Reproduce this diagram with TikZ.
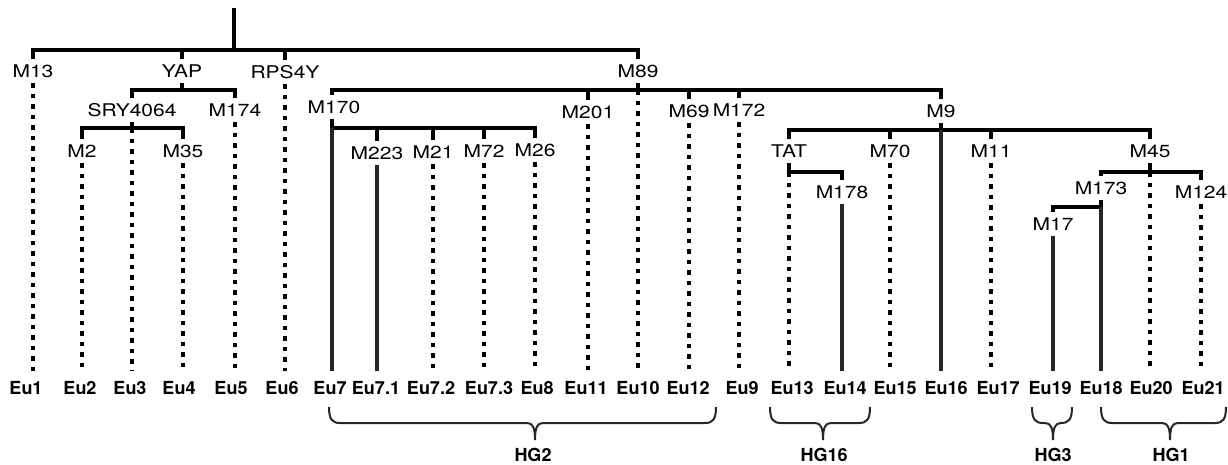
\documentclass[tikz,border=0pt]{standalone}
\usepackage{fontspec}
\setmainfont{TeX Gyre Heros}
\newfontfamily\mkfont{TeX Gyre Heros}[FakeStretch=1.2]

% curly brace under a haplogroup: left end, tip, right end
\newcommand\hgbrace[3]{%
  \draw[brace] (#1,407) .. controls (#1,419) and ({#1+3},423) .. ({#1+11},423)
    -- ({#2-8},423) .. controls ({#2-2},423) and (#2,428) .. (#2,440)
    .. controls (#2,428) and ({#2+2},423) .. ({#2+8},423)
    -- ({#3-11},423) .. controls ({#3-3},423) and (#3,419) .. (#3,407);}

\begin{document}
\begin{tikzpicture}[
    x=1pt, y=-1pt,
    marker/.style={font=\mkfont\fontsize{17.5}{20}\selectfont, text height=12.5pt, text depth=0pt, inner xsep=0pt, inner ysep=6pt},
    leaf/.style={font=\bfseries\fontsize{18}{20}\selectfont, text height=13pt, text depth=0pt, inner xsep=0pt, inner ysep=10pt},
    group/.style={font=\bfseries\fontsize{18}{20}\selectfont, text height=13pt, text depth=0pt, inner sep=0pt},
    bar/.style={line width=4pt, line join=miter},
    solidbr/.style={line width=3.3pt, draw=black!85},
    dotbr/.style={line width=4.5pt, dash pattern=on 4.5pt off 6pt},
    brace/.style={line width=2pt, draw=black!85}
]
\useasboundingbox (0,0) rectangle (1228,464);

% --- Marker labels ---
\foreach \n/\x/\y/\t in {m13/33/71/M13, yap/182/71/YAP, rps4y/285/72/RPS4Y, m89/638/71/M89,
    sry/132/110/SRY4064, m174/235/110/M174, m170/334/107/M170, m201/588/112/M201,
    m69/689/111/M69, m172/739/110/M172, m9/941/111/M9,
    m2/82/151/M2, m35/183/151/M35, m223/377/153/M223, m21/433/152/M21, m72/484/151/M72,
    m26/535/150/M26, tat/789/151/TAT, m70/890/151/M70, m11/991/151/M11, m45/1150/151/M45,
    m178/842/192/M178, m173/1101/188/M173, m124/1201/192/M124, m17/1053/224/M17}
{
    \node[marker] (\n) at (\x,\y) {\t};
}

% --- Leaf labels ---
\foreach \n/\x/\t in {eu1/26/Eu1, eu2/80/Eu2, eu3/130/Eu3, eu4/179/Eu4, eu5/231/Eu5,
    eu6/282/Eu6, eu7/330/Eu7, eu71/376/Eu7.1, eu72/431/Eu7.2, eu73/489/Eu7.3,
    eu8/537/Eu8, eu11/586/Eu11, eu10/638/Eu10, eu12/688/Eu12, eu9/742/Eu9,
    eu13/792/Eu13, eu14/845/Eu14, eu15/895/Eu15, eu16/946/Eu16, eu17/998/Eu17,
    eu19/1050/Eu19, eu18/1101/Eu18, eu20/1151/Eu20, eu21/1203/Eu21}
{
    \node[leaf] (\n) at (\x,388) {\t};
}

% --- Root ---
\coordinate (top) at (234,8);
\coordinate (r) at (234,50);
\draw[bar] (top) -- (r);
\draw[bar] (m13.north) |- (r) -| (m89.north);
\foreach \n in {yap,rps4y}
    \draw[bar] (\n.north) -- (\n.north |- r);
\draw[dotbr] (m13.south) -- (m13.south |- eu1.north);
\draw[dotbr] (rps4y.south) -- (rps4y.south |- eu6.north);

% --- YAP ---
\coordinate (yapj) at (182,90);
\draw[bar] (yap.south) -- (yapj);
\draw[bar] (sry.north) |- (yapj) -| (m174.north);
\draw[dotbr] (m174.south) -- (m174.south |- eu5.north);

% --- SRY4064 ---
\coordinate (sryj) at (132,128);
\draw[bar] (sry.south) -- (sryj);
\draw[bar] (m2.north) |- (sryj) -| (m35.north);
\draw[dotbr] (sryj) -- (sryj |- eu3.north);
\draw[dotbr] (m2.south) -- (m2.south |- eu2.north);
\draw[dotbr] (m35.south) -- (m35.south |- eu4.north);

% --- M89 ---
\coordinate (m89j) at (638,90);
\draw[bar] (m89.south) -- (m89j);
\draw[bar] (m170.north -| 332,0) |- (m89j) -| (m9.north);
\foreach \n in {m201,m69,m172}
    \draw[bar] (\n.north) -- (\n.north |- m89j);
\draw[dotbr] (m89j) -- (m89j |- eu10.north);
\draw[dotbr] (m201.south) -- (m201.south |- eu11.north);
\draw[dotbr] (m69.south) -- (m69.south |- eu12.north);
\draw[dotbr] (m172.south) -- (m172.south |- eu9.north);

% --- M170 ---
\coordinate (m170j) at (332,128);
\draw[bar] (m170.south -| m170j) -- (m170j) -| (m26.north);
\foreach \n in {m223,m21,m72}
    \draw[bar] (\n.north) -- (\n.north |- m170j);
\draw[solidbr] (m170j) -- (m170j |- eu7.north);
\draw[solidbr] (m223.south) -- (m223.south |- eu71.north);
\draw[dotbr] (m21.south) -- (m21.south |- eu72.north);
\draw[dotbr] (m72.south) -- (m72.south |- eu73.north);
\draw[dotbr] (m26.south) -- (m26.south |- eu8.north);

% --- M9 ---
\coordinate (m9j) at (941,130);
\draw[bar] (m9.south) -- (m9j);
\draw[bar] (tat.north) |- (m9j) -| (m45.north);
\foreach \n in {m70,m11}
    \draw[bar] (\n.north) -- (\n.north |- m9j);
\draw[solidbr] (m9j) -- (m9j |- eu16.north);
\draw[dotbr] (m70.south) -- (m70.south |- eu15.north);
\draw[dotbr] (m11.south) -- (m11.south |- eu17.north);

% --- TAT ---
\coordinate (tatj) at (789,172);
\draw[bar] (tat.south) -- (tatj) -| (m178.north);
\draw[dotbr] (tatj) -- (tatj |- eu13.north);
\draw[solidbr] (m178.south) -- (m178.south |- eu14.north);

% --- M45 ---
\coordinate (m45j) at (1150,172);
\draw[bar] (m45.south) -- (m45j);
\draw[bar] (m173.north) |- (m45j) -| (m124.north);
\draw[dotbr] (m45j) -- (m45j |- eu20.north);
\draw[dotbr] (m124.south) -- (m124.south |- eu21.north);

% --- M173 ---
\coordinate (m173j) at (1101,207);
\draw[bar] (m173.south) -- (m173j);
\draw[bar] (m17.north) |- (m173j);
\draw[solidbr] (m173j) -- (m173j |- eu18.north);
\draw[solidbr] (m17.south) -- (m17.south |- eu19.north);

% --- Haplogroups ---
\hgbrace{329}{535}{716}
\hgbrace{770}{823}{870}
\hgbrace{1032}{1053}{1072}
\hgbrace{1101}{1170}{1226}
\node[group] (hg2) at (533,455) {HG2};
\node[group] (hg16) at (824,455) {HG16};
\node[group] (hg3) at (1053,455) {HG3};
\node[group] (hg1) at (1171,455) {HG1};

\end{tikzpicture}
\end{document}
